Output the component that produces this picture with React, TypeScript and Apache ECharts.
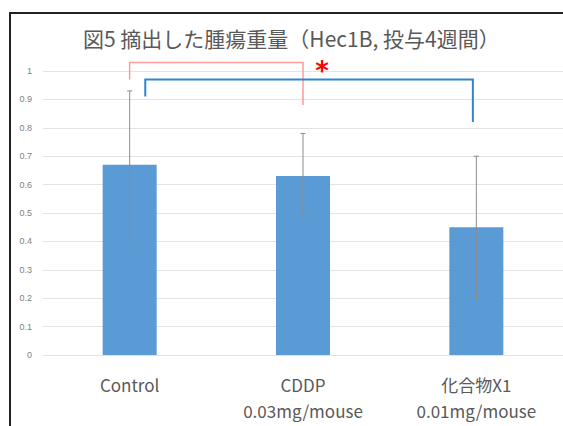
import React, { useEffect, useRef } from "react";
import * as echarts from "echarts";

const titleText = "図5 摘出した腫瘍重量（Hec1B, 投与4週間）";
const categories = ["Control", "CDDP\n0.03mg/mouse", "化合物X1\n0.01mg/mouse"];
const means = [0.67, 0.63, 0.45];
const errUpper = [0.93, 0.78, 0.7];
const errLower = [0.4, 0.49, 0.2];
// brackets: [category position, value]
const pinkBracket = [[0.0, 0.97], [0.0, 1.03], [1.0, 1.03], [1.0, 0.88]];
const blueBracket = [[0.09, 0.91], [0.09, 0.97], [1.98, 0.97], [1.98, 0.82]];
const starPos = [1.11, 1.0];

export default function App() {
  const ref = useRef<HTMLDivElement>(null);
  useEffect(() => {
    if (!ref.current) return;
    const chart = echarts.init(ref.current, null, { renderer: "svg" });
    const bracketPt = (api: any, p: number[]) => {
      const i = Math.floor(p[0]);
      const frac = p[0] - i;
      const c = api.coord([i, p[1]]);
      const band = api.size([1, 0])[0];
      return [c[0] + frac * band, c[1]];
    };
    chart.setOption({
      animation: false,
      backgroundColor: "#ffffff",
      title: {
        text: titleText,
        left: 78,
        top: 22,
        textStyle: {
          fontFamily: "Noto Sans CJK JP",
          fontSize: 21,
          fontWeight: "normal",
          color: "#595959",
        },
      },
      graphic: [
        {
          type: "rect",
          shape: { x: 10, y: 13, width: 600, height: 500 },
          style: { fill: "none", stroke: "#222", lineWidth: 2 },
          silent: true,
        },
      ],
      grid: { left: 43, right: 0, top: 71, bottom: 71 },
      xAxis: {
        type: "category",
        data: categories,
        axisTick: { show: false },
        axisLine: { show: false },
        axisLabel: {
          color: "#595959",
          fontSize: 17,
          lineHeight: 26,
          margin: 16,
          fontFamily: "Noto Sans CJK JP",
        },
      },
      yAxis: {
        type: "value",
        min: 0,
        max: 1,
        interval: 0.1,
        axisLine: { show: false },
        axisTick: { show: false },
        splitLine: { lineStyle: { color: "#e3e3e3", width: 1 } },
        axisLabel: {
          color: "#7f7f7f",
          fontSize: 9,
          margin: 11,
          formatter: (v: number) => String(Math.round(v * 10) / 10),
        },
      },
      series: [
        {
          type: "bar",
          data: means,
          barWidth: 54,
          itemStyle: { color: "#5b9bd5" },
        },
        {
          type: "custom",
          clip: false,
          data: means.map((_, i) => [i, errLower[i], errUpper[i]]),
          renderItem: (params: any, api: any) => {
            const i = api.value(0);
            const lo = api.coord([i, api.value(1)]);
            const hi = api.coord([i, api.value(2)]);
            const st = { stroke: "#8c8c8c", lineWidth: 1 };
            return {
              type: "group",
              children: [
                { type: "line", shape: { x1: lo[0], y1: lo[1], x2: hi[0], y2: hi[1] }, style: st },
                { type: "line", shape: { x1: hi[0] - 2.5, y1: hi[1], x2: hi[0] + 2.5, y2: hi[1] }, style: st },
                { type: "line", shape: { x1: lo[0] - 2.5, y1: lo[1], x2: lo[0] + 2.5, y2: lo[1] }, style: st },
              ],
            };
          },
          z: 5,
        },
        {
          type: "custom",
          clip: false,
          data: [[0]],
          renderItem: (params: any, api: any) => {
            const pink = pinkBracket.map((p) => bracketPt(api, p));
            const blue = blueBracket.map((p) => bracketPt(api, p));
            const star = bracketPt(api, starPos);
            return {
              type: "group",
              children: [
                { type: "polyline", shape: { points: pink }, style: { stroke: "#ff9c9c", lineWidth: 1.5, fill: "none" } },
                { type: "polyline", shape: { points: blue }, style: { stroke: "#2f86d0", lineWidth: 2, fill: "none" } },
                {
                  type: "text",
                  x: star[0],
                  y: star[1],
                  style: {
                    text: "*",
                    fill: "#ff0000",
                    fontSize: 26,
                    fontWeight: "bold",
                    fontFamily: "DejaVu Sans",
                    align: "center",
                    verticalAlign: "middle",
                  },
                },
              ],
            };
          },
          z: 6,
        },
      ],
    });
    return () => chart.dispose();
  }, []);
  return (
    <div
      ref={ref}
      style={{ position: "fixed", left: 0, top: 0, width: 563, height: 426 }}
    />
  );
}
